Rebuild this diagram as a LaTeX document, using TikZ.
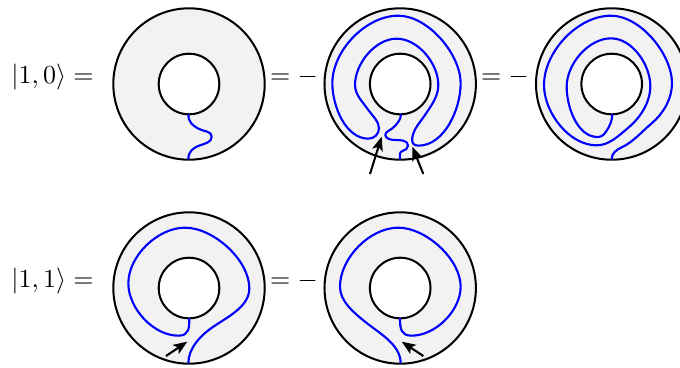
\documentclass[tikz,border=0pt]{standalone}
\usetikzlibrary{arrows.meta}
\tikzset{
  outerdisk/.style={draw=black,fill=black!5,line width=0.78pt},
  innerdisk/.style={draw=black,fill=white,line width=0.78pt},
  strand/.style={draw=blue,line width=0.82pt,line join=round,looseness=0.88},
  pointer/.style={draw=black,line width=0.8pt,-{Stealth[length=5.4pt,width=4.2pt,inset=1.3pt]}},
  zoomed/.style={x=0.12833pt,y=-0.12833pt},
  lbl/.style={inner sep=0pt,anchor=center}
}
\begin{document}
\begin{tikzpicture}[x=0.385pt,y=-0.385pt]
\useasboundingbox (0,0) rectangle (680,367);
\clip (0,0) rectangle (680,367);
% disks
\foreach \cx/\cy in {189/84,400.2/84,611.7/84,189/288,400.2/288}{
  \path[outerdisk] (\cx,\cy) circle (75.7);
  \path[innerdisk] (\cx,\cy) circle (30.3);
}
% disk 1
\begin{scope}[shift={(100,0)},zoomed]
\path[strand] (265,342) to[out=-90,in=155,looseness=1.1] (300,388) to[out=-25,in=90,looseness=1] (335,410)
  to[out=-90,in=20,looseness=1] (300,436) to[out=200,in=90,looseness=1.1] (265,478);
\end{scope}
% disk 2
\begin{scope}[shift={(315,0)},zoomed]
\path[strand] (258,342) to[out=-90,in=40] (232,385) to[out=-140,in=90] (211,405)
  to[out=-90,in=180] (240,420) to[out=0,in=90,looseness=1] (279,437) to[out=-90,in=15,looseness=1] (262,453)
  to[out=195,in=90,looseness=1] (255,478);
\path[strand] (292,412) to[out=80,in=-124] (330,345) to[out=56,in=-90] (370,255)
  to[out=90,in=0] (245,116) to[out=180,in=90] (120,255) to[out=-90,in=125] (160,330)
  to[out=-55,in=90] (192,385) to[out=-90,in=0,looseness=1] (160,416) to[out=180,in=-90] (52,250)
  to[out=90,in=180] (250,47) to[out=0,in=90,looseness=0.82] (437,250)
  to[out=-90,in=0] (310,437) to[out=180,in=-100,looseness=1.3] (292,412) -- cycle;
\coordinate (a1s) at (165,522); \coordinate (a1e) at (200,410);
\coordinate (a2s) at (325,522); \coordinate (a2e) at (292,440);
\end{scope}
\draw[pointer] (a1s) -- (a1e);
\draw[pointer] (a2s) -- (a2e);
% disk 3
\begin{scope}[shift={(525,0)},zoomed]
\path[strand] (262,342) to[out=-90,in=55] (243,395) to[out=-125,in=0,looseness=1] (218,411)
  to[out=180,in=-90] (125,260) to[out=90,in=180] (258,115) to[out=0,in=90] (376,258)
  to[out=-90,in=40] (310,383) to[out=-140,in=0] (215,436) to[out=180,in=-90] (57,255)
  to[out=90,in=180] (258,47) to[out=0,in=90,looseness=0.82] (441,250)
  to[out=-90,in=40] (380,370) to[out=-140,in=25] (290,442) to[out=205,in=90,looseness=1] (260,478);
\end{scope}
% disk 4
\begin{scope}[shift={(100,200)},zoomed]
\path[strand] (268,354) to[out=-90,in=0,looseness=1.3] (235,407) to[out=180,in=-90] (85,250)
  to[out=90,in=180] (255,83) to[out=0,in=90,looseness=0.82] (448,265)
  to[out=-90,in=34] (340,380) to[out=-146,in=90] (265,490);
\coordinate (a3s) at (198,468); \coordinate (a3e) at (262,425);
\end{scope}
\draw[pointer] (a3s) -- (a3e);
% disk 5
\begin{scope}[shift={(315,200)},zoomed]
\path[strand] (255,354) to[out=-90,in=180,looseness=1.3] (290,407) to[out=0,in=-90] (437,260)
  to[out=90,in=0,looseness=0.82] (250,83) to[out=180,in=90] (75,260)
  to[out=-90,in=141] (150,365) to[out=-39,in=90] (257,490);
\coordinate (a4s) at (325,468); \coordinate (a4e) at (260,425);
\end{scope}
\draw[pointer] (a4s) -- (a4e);
% labels
\node[lbl] (l1) at (52.5,77) {$|1,0\rangle=$};
\node[lbl] (l2) at (52.5,281) {$|1,1\rangle=$};
\node[lbl] (e1) at (294,77) {$=-$};
\node[lbl] (e2) at (505,77) {$=-$};
\node[lbl] (e3) at (294,281) {$=-$};
\end{tikzpicture}
\end{document}
